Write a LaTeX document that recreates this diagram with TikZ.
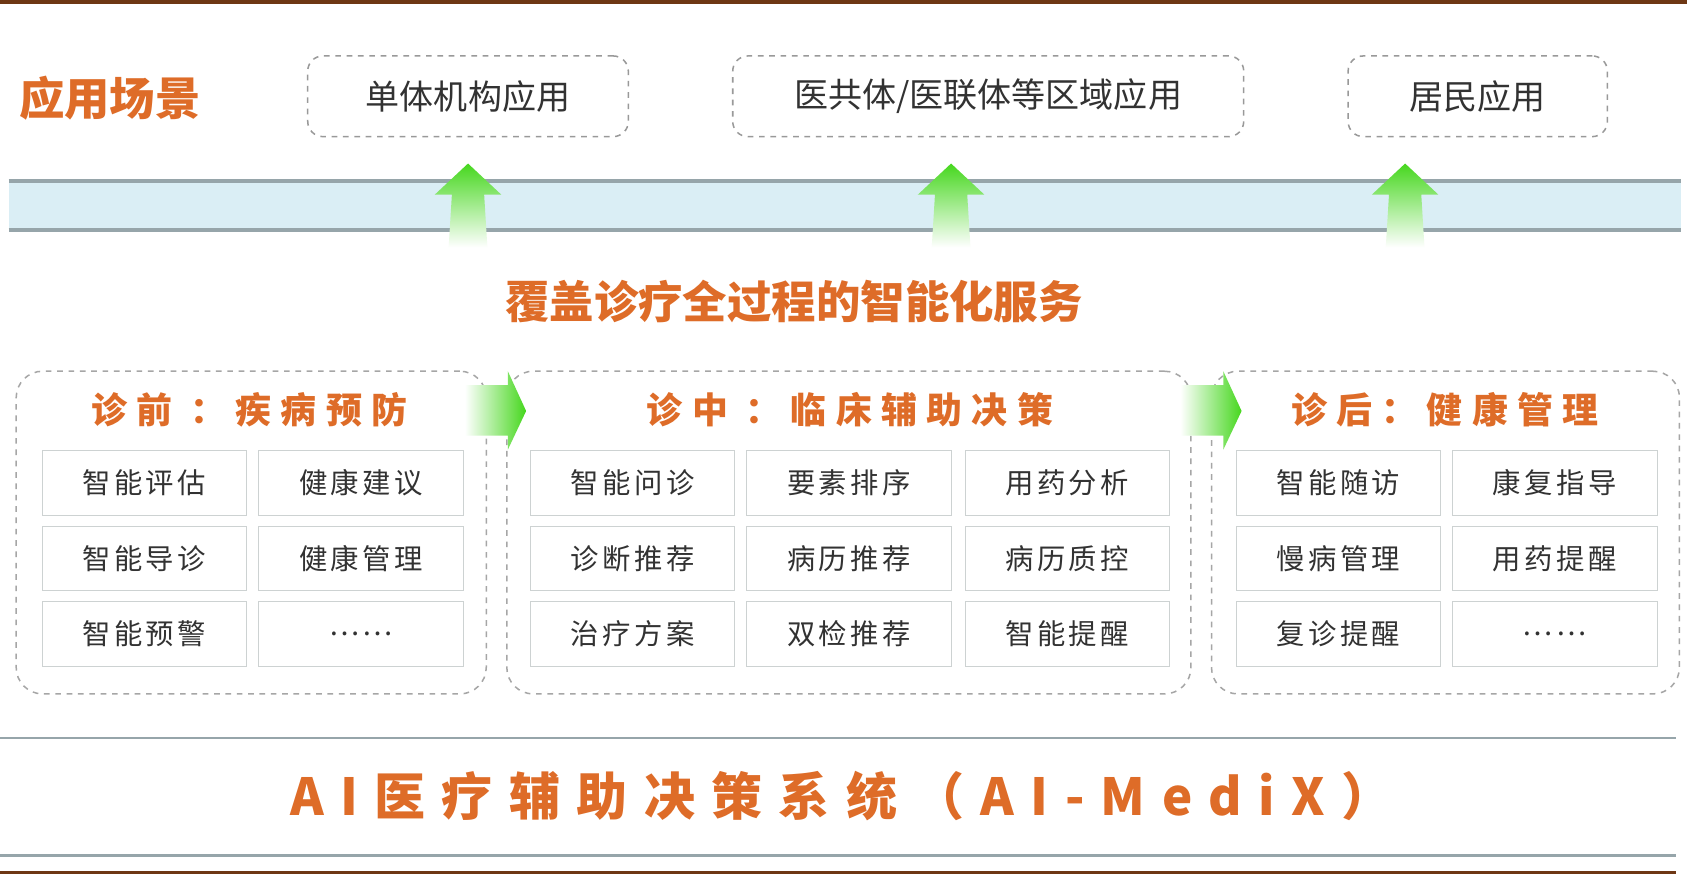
\documentclass[tikz,border=0pt]{standalone}
\usepackage{fontspec}
\setmainfont{Noto Sans CJK SC}
\newfontfamily\cjk{Noto Sans CJK SC}
\newfontfamily\cjksp[LetterSpace=12]{Noto Sans CJK SC}
\newfontfamily\cjkwide[LetterSpace=26]{Noto Sans CJK SC}
\newfontfamily\cjkwider[LetterSpace=32]{Noto Sans CJK SC}
\definecolor{org}{RGB}{222,108,40}
\definecolor{brn}{RGB}{110,55,20}
\definecolor{gline}{RGB}{150,165,170}
\definecolor{band}{RGB}{218,238,245}
\definecolor{gr}{RGB}{70,215,30}
\definecolor{cellb}{RGB}{205,210,210}
\definecolor{txt}{RGB}{50,50,50}
\tikzset{
 appbox/.style={draw=gray!80,dashed,rounded corners=8pt,line width=0.8pt,font=\cjk\fontsize{18}{18}\selectfont,text=txt,minimum height=1.5cm},
 grpbox/.style={draw=gray!70,dashed,rounded corners=14pt,line width=0.8pt},
 cell/.style={draw=cellb,fill=white,minimum width=3.8cm,minimum height=1.2cm,font=\cjksp\fontsize{15}{15}\selectfont,text=txt},
 grn/.style={top color=gr,bottom color=white,draw=none},
 grnh/.style={left color=white,right color=gr,draw=none},
}
\begin{document}
\begin{tikzpicture}[x=0.02cm,y=-0.02cm]
\useasboundingbox (0,0) rectangle (1568,817);
\fill[white] (0,0) rectangle (1568,817);
\draw[brn,line width=2pt] (0,2) -- (1568,2);
\draw[brn,line width=2pt] (0,811) -- (1558,811);
\draw[gline,line width=1.5pt] (0,795) -- (1558,795);
\draw[gline,line width=1.5pt] (0,686) -- (1558,686);
% band
\fill[band] (8,168) rectangle (1562,214);
\draw[gline,line width=2pt] (8,168) -- (1562,168);
\draw[gline,line width=2pt] (8,214) -- (1562,214);
\node[text=org,font=\cjk\bfseries\fontsize{24}{24}\selectfont] (t0) at (102,91) {应用场景};
\node[appbox,minimum width=5.96cm] (a1) at (435,89.5) {单体机构应用};
\node[appbox,minimum width=9.5cm] (a2) at (918.5,89.5) {医共体/医联体等区域应用};
\node[appbox,minimum width=4.82cm] (a3) at (1373.5,89.5) {居民应用};
% green up arrows
\foreach \x in {435,884,1306}{
 \shade[grn] (\x,152) -- (\x+31,181) -- (\x+15,181) -- (\x+18,230) -- (\x-18,230) -- (\x-15,181) -- (\x-31,181) -- cycle;
}
\node[text=org,font=\cjk\bfseries\fontsize{23.5}{24}\selectfont] (mid) at (738,280) {覆盖诊疗全过程的智能化服务};
% groups
\node[grpbox,minimum width=8.74cm,minimum height=6cm] (g1) at (233.5,495) {};
\node[grpbox,minimum width=12.72cm,minimum height=6cm] (g2) at (789,495) {};
\node[grpbox,minimum width=8.7cm,minimum height=6cm] (g3) at (1343.5,495) {};
\shade[grnh] (432,358) -- (472,358) -- (472,345) -- (489,382) -- (472,418) -- (472,405) -- (432,405) -- cycle;
\shade[grnh] (1097,358) -- (1137,358) -- (1137,345) -- (1154,382) -- (1137,418) -- (1137,405) -- (1097,405) -- cycle;
\node[text=org,font=\cjkwide\bfseries\fontsize{19}{19}\selectfont] (h1) at (232,381) {诊前 ：疾病预防};
\node[text=org,font=\cjkwide\bfseries\fontsize{19}{19}\selectfont] (h2) at (790,381) {诊中 ：临床辅助决策};
\node[text=org,font=\cjkwide\bfseries\fontsize{19}{19}\selectfont] (h3) at (1343,381) {诊后：健康管理};
% cells
\node[cell] (c11) at (134,449) {智能评估};
\node[cell] (c12) at (335.5,449) {健康建议};
\node[cell] (c13) at (134,519) {智能导诊};
\node[cell] (c14) at (335.5,519) {健康管理};
\node[cell] (c15) at (134,589) {智能预警};
\node[cell] (c16) at (335.5,589) {……};
\node[cell] (c21) at (588,449) {智能问诊};
\node[cell] (c22) at (789,449) {要素排序};
\node[cell] (c23) at (992,449) {用药分析};
\node[cell] (c24) at (588,519) {诊断推荐};
\node[cell] (c25) at (789,519) {病历推荐};
\node[cell] (c26) at (992,519) {病历质控};
\node[cell] (c27) at (588,589) {治疗方案};
\node[cell] (c28) at (789,589) {双检推荐};
\node[cell] (c29) at (992,589) {智能提醒};
\node[cell] (c31) at (1244,449) {智能随访};
\node[cell] (c32) at (1445,449) {康复指导};
\node[cell] (c33) at (1244,519) {慢病管理};
\node[cell] (c34) at (1445,519) {用药提醒};
\node[cell] (c35) at (1244,589) {复诊提醒};
\node[cell] (c36) at (1445,589) {……};
\node[text=org,font=\cjkwider\bfseries\fontsize{27}{27}\selectfont] (bt) at (782,740) {AI医疗辅助决策系统（AI-MediX）};
\end{tikzpicture}
\end{document}
